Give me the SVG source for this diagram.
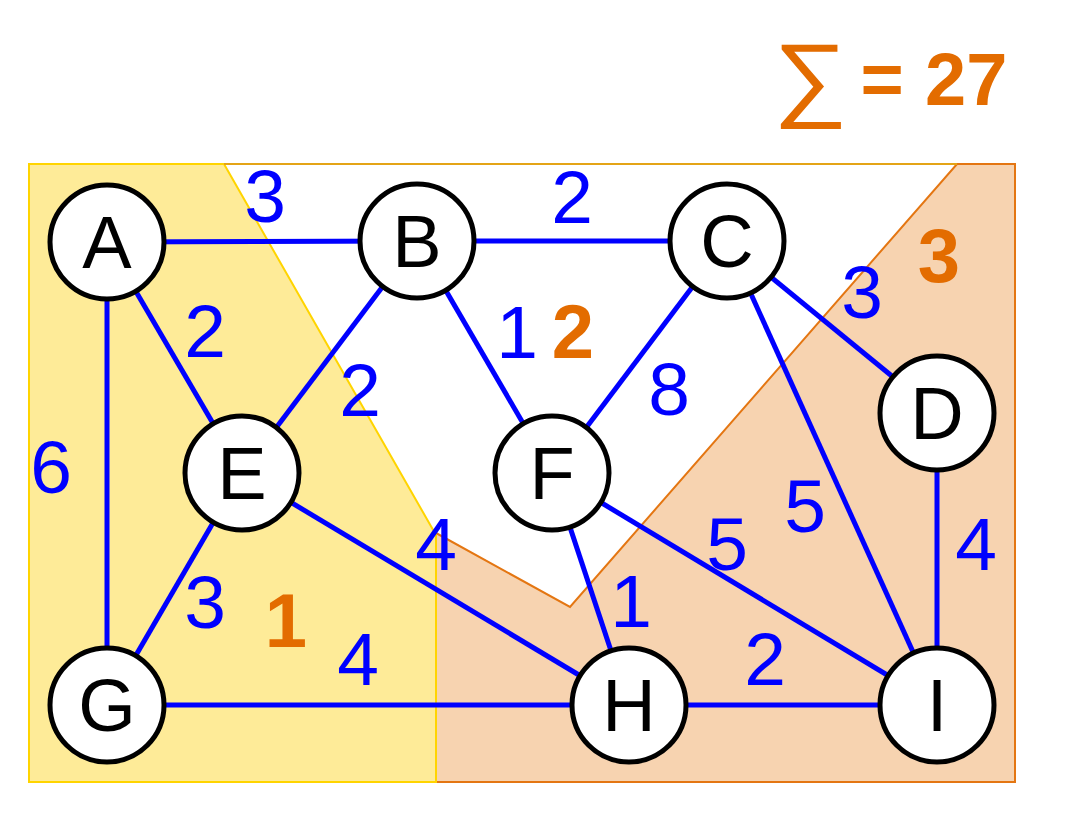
<svg xmlns="http://www.w3.org/2000/svg" width="1070" height="814" viewBox="0 0 1070 814">
<style>
.node circle{fill:#fff;stroke:#000;stroke-width:5}
.node text{font-family:"Liberation Sans",Arial,sans-serif;font-size:74px;fill:#000;text-anchor:middle}
#edges line{stroke:#0000ff;stroke-width:5}
.w{font-family:"Liberation Sans",Arial,sans-serif;font-size:75px;fill:#0000ff;text-anchor:middle}
.r{font-family:"Liberation Sans",Arial,sans-serif;font-size:76px;font-weight:bold;fill:#e36c00;text-anchor:middle}
</style>
<rect width="1070" height="814" fill="#fff"/>
<g id="regions">
<polygon id="region3" points="436,533 570,607 957,164 1015,164 1015,782 436,782" fill="#f7d3b0" stroke="#e47612" stroke-width="2"/>
<polygon id="region1" points="29,164 224,164 436,535 436,782 29,782" fill="#feeb98" stroke="#ffd400" stroke-width="2"/>
<line x1="224" y1="164" x2="957" y2="164" stroke="#e4a416" stroke-width="2"/>
</g>
<g id="edges">
<line x1="107" y1="242" x2="417" y2="241"/>
<line x1="417" y1="241" x2="727" y2="241"/>
<line x1="107" y1="242" x2="107" y2="705"/>
<line x1="107" y1="242" x2="242" y2="473"/>
<line x1="417" y1="241" x2="242" y2="473"/>
<line x1="417" y1="241" x2="552" y2="473"/>
<line x1="727" y1="241" x2="552" y2="473"/>
<line x1="727" y1="241" x2="937" y2="413"/>
<line x1="727" y1="241" x2="937" y2="705"/>
<line x1="937" y1="413" x2="937" y2="705"/>
<line x1="242" y1="473" x2="107" y2="705"/>
<line x1="242" y1="473" x2="629" y2="705"/>
<line x1="107" y1="705" x2="629" y2="705"/>
<line x1="552" y1="473" x2="629" y2="705"/>
<line x1="552" y1="473" x2="937" y2="705"/>
<line x1="629" y1="705" x2="937" y2="705"/>
</g>
<g id="weights">
<text class="w" x="265" y="222">3</text>
<text class="w" x="572" y="223">2</text>
<text class="w" x="205" y="357">2</text>
<text class="w" x="360" y="416">2</text>
<text class="w" x="517" y="358">1</text>
<text class="w" x="669" y="415">8</text>
<text class="w" x="862" y="318">3</text>
<text class="w" x="51" y="493">6</text>
<text class="w" x="205" y="628">3</text>
<text class="w" x="358" y="685">4</text>
<text class="w" x="436" y="570">4</text>
<text class="w" x="631" y="627">1</text>
<text class="w" x="727" y="570">5</text>
<text class="w" x="805" y="532">5</text>
<text class="w" x="976" y="570">4</text>
<text class="w" x="765" y="685">2</text>
</g>
<g id="region-labels">
<text class="r" x="286" y="647">1</text>
<text class="r" x="573" y="358">2</text>
<text class="r" x="939" y="282">3</text>
</g>
<g id="sum">
<text transform="translate(773,109) scale(1.15,1.03)" x="0" y="0" font-family="Liberation Sans,Arial,sans-serif" font-size="91" fill="#e36c00">∑</text>
<text x="882" y="105" font-family="Liberation Sans,Arial,sans-serif" font-size="74" font-weight="bold" fill="#e36c00" text-anchor="middle">=</text>
<text x="925" y="105" font-family="Liberation Sans,Arial,sans-serif" font-size="74" font-weight="bold" fill="#e36c00">27</text>
</g>
<g id="A" class="node"><circle cx="107" cy="242" r="57"/><text x="107" y="268">A</text></g>
<g id="B" class="node"><circle cx="417" cy="241" r="57"/><text x="417" y="267">B</text></g>
<g id="C" class="node"><circle cx="727" cy="241" r="57"/><text x="727" y="267">C</text></g>
<g id="D" class="node"><circle cx="937" cy="413" r="57"/><text x="937" y="439">D</text></g>
<g id="E" class="node"><circle cx="242" cy="473" r="57"/><text x="242" y="499">E</text></g>
<g id="F" class="node"><circle cx="552" cy="473" r="57"/><text x="552" y="499">F</text></g>
<g id="G" class="node"><circle cx="107" cy="705" r="57"/><text x="107" y="731">G</text></g>
<g id="H" class="node"><circle cx="629" cy="705" r="57"/><text x="629" y="731">H</text></g>
<g id="I" class="node"><circle cx="937" cy="705" r="57"/><text x="937" y="731">I</text></g>
</svg>
